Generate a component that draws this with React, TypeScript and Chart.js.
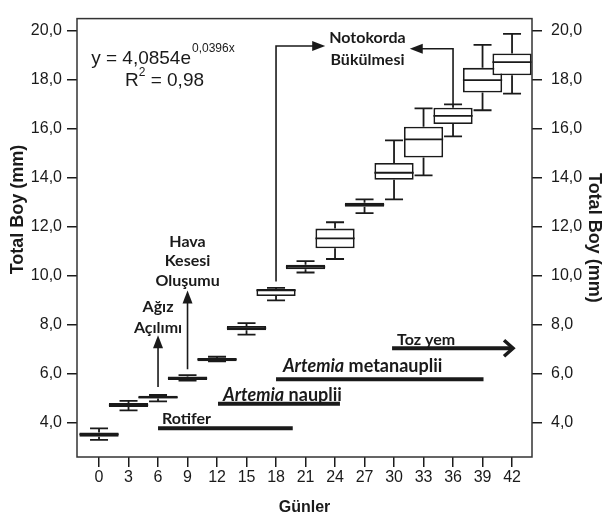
import React, { useEffect, useRef } from 'react';
import { Chart, registerables } from 'chart.js';

Chart.register(...registerables);

// ---- data ----
const days = [0, 3, 6, 9, 12, 15, 18, 21, 24, 27, 30, 33, 36, 39, 42];
const minV = [3.3, 4.5, 4.87, 5.72, 6.5, 7.59, 8.99, 10.13, 10.68, 12.55, 13.11, 14.09, 15.68, 16.75, 17.43];
const q1V = [3.43, 4.64, 4.99, 5.74, 6.51, 7.77, 9.17, 10.26, 11.12, 12.81, 13.91, 14.82, 16.19, 17.47, 18.18];
const medV = [3.52, 4.72, 5.03, 5.81, 6.58, 7.86, 9.4, 10.36, 11.52, 12.9, 14.2, 15.56, 16.52, 17.98, 18.71];
const q3V = [3.6, 4.8, 5.1, 5.88, 6.64, 7.95, 9.46, 10.45, 11.92, 12.98, 14.6, 16.08, 16.85, 18.48, 19.07];
const maxV = [3.77, 4.89, 5.13, 5.94, 6.69, 8.06, 9.5, 10.59, 12.18, 13.11, 15.52, 16.83, 16.99, 19.42, 19.87];
const yTicks = [4, 6, 8, 10, 12, 14, 16, 18, 20];

// feeding periods (days)
const feedItalic = ['', 'Artemia', 'Artemia', ''];
const feedText = ['Rotifer', ' nauplii', ' metanauplii', 'Toz yem'];
const feedStart = [6, 12.1, 18, 29.8];
const feedEnd = [19.7, 24.5, 39.1, 42.1];

// events (days)
const mouthDay = 6;
const swimBladderDay = 9;
const notochordStart = 18;
const notochordEnd = 36;

const LINE = '#1a1a1a';
const TEXT = '#1a1a1a';
const AX_FONT = '"Liberation Sans", Arial, sans-serif';
const ANN_FONT = 'Lato, "Noto Sans", sans-serif';

const fmt = (v: number) => Number(v).toFixed(1).replace('.', ',');

function arrowHead(ctx: CanvasRenderingContext2D, tx: number, ty: number, dir: 'up' | 'left' | 'right') {
  const L = 13, H = 5;
  ctx.beginPath();
  ctx.moveTo(tx, ty);
  if (dir === 'up') {
    ctx.lineTo(tx - H, ty + L);
    ctx.lineTo(tx + H, ty + L);
  } else if (dir === 'right') {
    ctx.lineTo(tx - L, ty - H);
    ctx.lineTo(tx - L, ty + H);
  } else {
    ctx.lineTo(tx + L, ty - H);
    ctx.lineTo(tx + L, ty + H);
  }
  ctx.closePath();
  ctx.fill();
}

const boxPlugin = {
  id: 'boxExtras',
  beforeDatasetsDraw(chart: any) {
    const { ctx, scales: { x, y } } = chart;
    ctx.save();
    ctx.strokeStyle = LINE;
    ctx.lineWidth = 1.8;
    const cap = 9;
    days.forEach((d, i) => {
      const cx = x.getPixelForValue(d);
      const yMax = y.getPixelForValue(maxV[i]);
      const yMin = y.getPixelForValue(minV[i]);
      const yQ1 = y.getPixelForValue(q1V[i]);
      const yQ3 = y.getPixelForValue(q3V[i]);
      ctx.beginPath();
      ctx.moveTo(cx, yQ3); ctx.lineTo(cx, yMax);
      ctx.moveTo(cx - cap, yMax); ctx.lineTo(cx + cap, yMax);
      ctx.moveTo(cx, yQ1); ctx.lineTo(cx, yMin);
      ctx.moveTo(cx - cap, yMin); ctx.lineTo(cx + cap, yMin);
      ctx.stroke();
    });
    ctx.restore();
  },
  afterDatasetsDraw(chart: any) {
    const { ctx, scales: { x, y } } = chart;
    const meta = chart.getDatasetMeta(0);
    ctx.save();
    ctx.strokeStyle = LINE;
    ctx.lineWidth = 1.8;
    days.forEach((d, i) => {
      const cx = x.getPixelForValue(d);
      const w = meta.data[i].width;
      const ym = y.getPixelForValue(medV[i]);
      ctx.beginPath();
      ctx.moveTo(cx - w / 2, ym); ctx.lineTo(cx + w / 2, ym);
      ctx.stroke();
    });
    ctx.restore();
  },
};

const annotationPlugin = {
  id: 'annotations',
  afterDraw(chart: any) {
    const { ctx, chartArea, scales: { x, y } } = chart;
    const X = (v: number) => x.getPixelForValue(v);
    const Y = (v: number) => y.getPixelForValue(v);
    ctx.save();

    // frame
    ctx.strokeStyle = '#333';
    ctx.lineWidth = 1.5;
    ctx.strokeRect(chartArea.left, chartArea.top, chartArea.right - chartArea.left, chartArea.bottom - chartArea.top);

    // left axis title
    ctx.save();
    ctx.translate(18, Y(12.7));
    ctx.rotate(-Math.PI / 2);
    ctx.font = `bold 18px ${AX_FONT}`;
    ctx.fillStyle = TEXT;
    ctx.textAlign = 'center';
    ctx.textBaseline = 'middle';
    ctx.fillText('Total Boy (mm)', 0, 0);
    ctx.restore();

    // equation
    ctx.fillStyle = TEXT;
    ctx.textBaseline = 'alphabetic';
    ctx.textAlign = 'left';
    ctx.font = `19px ${AX_FONT}`;
    const ex = X(-0.8), ey = Y(18.65);
    const main = 'y = 4,0854e';
    ctx.fillText(main, ex, ey);
    const mw = ctx.measureText(main).width;
    ctx.font = `12px ${AX_FONT}`;
    ctx.fillText('0,0396x', ex + mw + 1, ey - 12);
    ctx.font = `19px ${AX_FONT}`;
    const rx = X(2.64), ry = Y(17.74);
    ctx.fillText('R', rx, ry);
    const rw = ctx.measureText('R').width;
    ctx.font = `12px ${AX_FONT}`;
    ctx.fillText('2', rx + rw, ry - 10);
    const tw = ctx.measureText('2').width;
    ctx.font = `19px ${AX_FONT}`;
    ctx.fillText(' = 0,98', rx + rw + tw, ry);

    // event labels
    ctx.font = `bold 16px ${ANN_FONT}`;
    ctx.textAlign = 'center';
    ctx.textBaseline = 'middle';
    ctx.fillText('Ağız', X(mouthDay), Y(8.72));
    ctx.fillText('Açılımı', X(mouthDay), Y(7.89));
    ctx.fillText('Hava', X(swimBladderDay), Y(11.38));
    ctx.fillText('Kesesi', X(swimBladderDay), Y(10.59));
    ctx.fillText('Oluşumu', X(swimBladderDay), Y(9.79));
    ctx.fillText('Notokorda', X(27.3), Y(19.69));
    ctx.fillText('Bükülmesi', X(27.3), Y(18.82));

    // event arrows
    ctx.strokeStyle = LINE;
    ctx.lineWidth = 1.6;
    ctx.beginPath();
    ctx.moveTo(X(mouthDay), Y(5.46)); ctx.lineTo(X(mouthDay), Y(7.57) + 10);
    ctx.moveTo(X(swimBladderDay), Y(6.18)); ctx.lineTo(X(swimBladderDay), Y(9.39) + 10);
    ctx.moveTo(X(notochordStart), Y(9.76)); ctx.lineTo(X(notochordStart), Y(19.37));
    ctx.lineTo(X(23.0) - 10, Y(19.37));
    ctx.moveTo(X(notochordEnd), Y(maxV[12])); ctx.lineTo(X(notochordEnd), Y(19.26));
    ctx.lineTo(X(31.6) + 10, Y(19.26));
    ctx.stroke();
    arrowHead(ctx, X(mouthDay), Y(7.57), 'up');
    arrowHead(ctx, X(swimBladderDay), Y(9.39), 'up');
    arrowHead(ctx, X(23.0), Y(19.37), 'right');
    arrowHead(ctx, X(31.6), Y(19.26), 'left');

    // feeding bars
    const levels = [3.77, 4.77, 5.77, 7.04];
    const textLevels = [4.17, 5.12, 6.29, 7.4];
    const textStart = [6.4, 12.6, 18.7, 30.3];
    const sizes = [16, 18, 18, 16];
    ctx.lineWidth = 4;
    ctx.lineCap = 'butt';
    for (let i = 0; i < feedText.length; i++) {
      ctx.beginPath();
      ctx.moveTo(X(feedStart[i]), Y(levels[i]));
      ctx.lineTo(X(feedEnd[i]) - (i === 3 ? 2 : 0), Y(levels[i]));
      ctx.stroke();
      ctx.textAlign = 'left';
      ctx.textBaseline = 'middle';
      let tx = X(textStart[i]);
      const ty = Y(textLevels[i]);
      if (feedItalic[i]) {
        ctx.font = `italic bold ${sizes[i]}px ${ANN_FONT}`;
        ctx.fillText(feedItalic[i], tx, ty);
        tx += ctx.measureText(feedItalic[i]).width;
      }
      ctx.font = `bold ${sizes[i]}px ${ANN_FONT}`;
      ctx.fillText(feedText[i], tx, ty);
    }
    // chevron head for last bar
    const tipX = X(feedEnd[3]), tipY = Y(levels[3]);
    ctx.lineWidth = 3.5;
    ctx.lineJoin = 'miter';
    ctx.beginPath();
    ctx.moveTo(tipX - 9, tipY - 8);
    ctx.lineTo(tipX, tipY);
    ctx.lineTo(tipX - 9, tipY + 8);
    ctx.stroke();

    ctx.restore();
  },
};

export default function App() {
  const ref = useRef<HTMLCanvasElement | null>(null);
  useEffect(() => {
    if (!ref.current) return;
    const tickFont = { family: AX_FONT, size: 16 };
    const grid = { display: true, drawOnChartArea: false, drawTicks: true, tickLength: 10, color: LINE, lineWidth: 1.5, offset: false };
    const chart = new Chart(ref.current, {
      type: 'bar',
      data: {
        datasets: [
          {
            data: days.map((d, i) => ({ x: d, y: [q1V[i], q3V[i]] })) as any,
            backgroundColor: '#ffffff',
            borderColor: LINE,
            borderWidth: 1.8,
            borderSkipped: false,
            barPercentage: 1.33,
            categoryPercentage: 1,
            yAxisID: 'y',
          },
        ],
      },
      options: {
        animation: false,
        responsive: true,
        maintainAspectRatio: false,
        layout: { padding: { top: 7, left: 0, right: 0, bottom: 0 } },
        plugins: { legend: { display: false }, tooltip: { enabled: false } },
        scales: {
          x: {
            type: 'linear',
            min: -2.24,
            max: 44.03,
            offset: false,
            afterBuildTicks: (s: any) => { s.ticks = days.map((v) => ({ value: v })); },
            afterFit: (s: any) => { s.height = 63; },
            ticks: { font: tickFont, color: TEXT, padding: 1, autoSkip: false, maxRotation: 0, callback: (v: any) => String(v) },
            grid,
            border: { display: false },
            title: { display: true, text: 'Günler', color: TEXT, font: { family: AX_FONT, size: 16, weight: 'bold', lineHeight: 1.2 }, padding: { top: 0, bottom: 3 } },
          },
          y: {
            type: 'linear',
            position: 'left',
            min: 2.6,
            max: 20.49,
            afterBuildTicks: (s: any) => { s.ticks = yTicks.map((v) => ({ value: v })); },
            afterFit: (s: any) => { s.width = 77; },
            ticks: { font: tickFont, color: TEXT, padding: 5, callback: (v: any) => fmt(v) },
            grid,
            border: { display: false },
          },
          y2: {
            type: 'linear',
            position: 'right',
            min: 2.6,
            max: 20.49,
            afterBuildTicks: (s: any) => { s.ticks = yTicks.map((v) => ({ value: v })); },
            afterFit: (s: any) => { s.width = 71; },
            ticks: { font: tickFont, color: TEXT, padding: 9, callback: (v: any) => fmt(v) },
            grid,
            border: { display: false },
            title: { display: true, text: 'Total Boy (mm)', color: TEXT, font: { family: AX_FONT, size: 18, weight: 'bold', lineHeight: 1 }, padding: 0 },
          },
        },
      } as any,
      plugins: [boxPlugin, annotationPlugin],
    });
    return () => chart.destroy();
  }, []);
  return (
    <div style={{ position: 'fixed', left: 0, top: 0, width: 603, height: 520, background: '#fff' }}>
      <canvas ref={ref} />
    </div>
  );
}
